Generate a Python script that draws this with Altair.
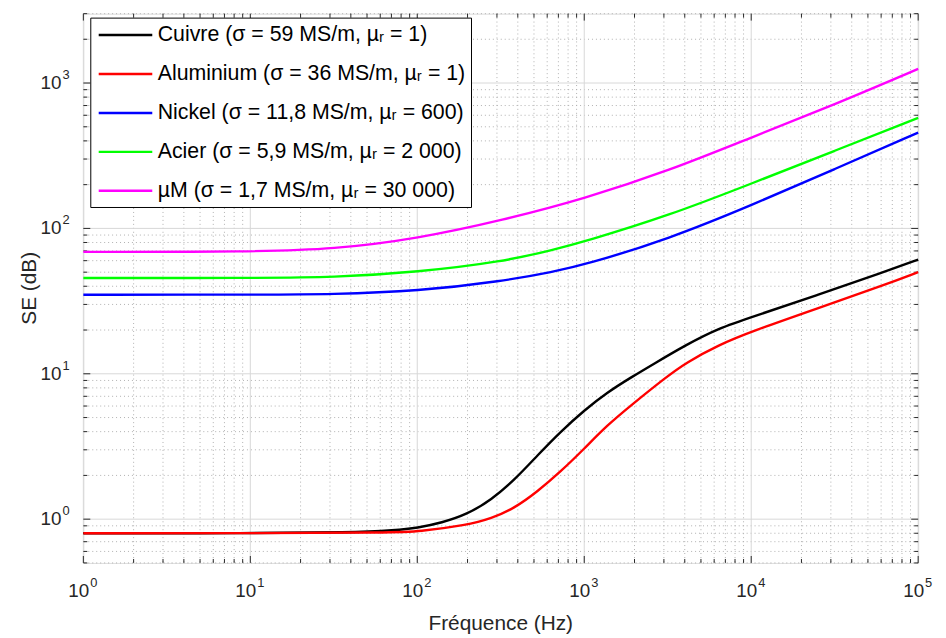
import altair as alt
import pandas as pd

# ---------------- data ----------------
series_names = [
    "Cuivre (σ = 59 MS/m, µᵣ = 1)",
    "Aluminium (σ = 36 MS/m, µᵣ = 1)",
    "Nickel (σ = 11,8 MS/m, µᵣ = 600)",
    "Acier (σ = 5,9 MS/m, µᵣ = 2 000)",
    "µM (σ = 1,7 MS/m, µᵣ = 30 000)",
]
series_colors = ["#000000", "#ff0000", "#0000ff", "#00ff00", "#ff00ff"]

cu_f = [1, 10, 40, 74, 100, 140, 198, 278, 382, 525, 721, 1000, 1360, 1950, 2575, 4060, 6400, 10000, 25000, 62000, 100000]
cu_se = [0.80, 0.80, 0.81, 0.84, 0.87, 0.945, 1.076, 1.36, 1.86, 2.75, 4.0, 5.6, 7.4, 9.6, 11.6, 15.8, 20.6, 24.5, 34.8, 50, 61]

al_f = [1, 10, 74, 100, 198, 278, 382, 525, 721, 1000, 1360, 1950, 3100, 4060, 6400, 10000, 25000, 62000, 100000]
al_se = [0.80, 0.80, 0.81, 0.82, 0.91, 1.01, 1.19, 1.55, 2.12, 3.05, 4.39, 6.2, 9.5, 11.9, 15.8, 19.5, 28.2, 40.6, 50]

ni_f = [1, 10, 32, 100, 326, 658, 1000, 3240, 10000, 31600, 100000]
ni_se = [35, 35, 35.2, 37, 43.3, 50.5, 56, 85, 144, 256, 456]

ac_f = [1, 10, 32, 100, 326, 658, 1000, 3240, 10000, 31600, 100000]
ac_se = [45.6, 45.6, 46, 50, 59, 71.5, 81, 123, 203, 342, 576]

mu_f = [1, 10, 32, 100, 326, 1000, 3240, 10000, 31600, 100000]
mu_se = [69, 69, 72, 85, 114, 160, 250, 422, 710, 1250]

# axis decorations
x_major = [1, 10, 100, 1000, 10000, 100000]
x_minor = [k * 10 ** d for d in range(5) for k in range(2, 10)]
y_major = [1, 10, 100, 1000]
y_minor = [0.5, 0.6, 0.7, 0.8, 0.9] + [k * 10 ** d for d in range(3) for k in range(2, 10)] + [2000, 3000]
x_exp = ["0", "1", "2", "3", "4", "5"]
y_exp = ["0", "1", "2", "3"]

rows = []
for name, fs, ses in zip(series_names, [cu_f, al_f, ni_f, ac_f, mu_f], [cu_se, al_se, ni_se, ac_se, mu_se]):
    for f, s in zip(fs, ses):
        rows.append({"serie": name, "f": f, "se": s})
df = pd.DataFrame(rows)

W, H = 842, 554
FONT = "Liberation Sans"
TXT = "#262626"

xs = alt.Scale(type="log", domain=[1, 100000], nice=False)
ys = alt.Scale(type="log", domain=[0.5, 3000], nice=False)

dxmaj = pd.DataFrame({"f": x_major, "e": x_exp, "b": ["10"] * len(x_major)})
dxmin = pd.DataFrame({"f": x_minor})
dymaj = pd.DataFrame({"se": y_major, "e": y_exp, "b": ["10"] * len(y_major)})
dymin = pd.DataFrame({"se": y_minor})

X = lambda: alt.X("f:Q", scale=xs, axis=None)
Y = lambda: alt.Y("se:Q", scale=ys, axis=None)

grid_xmin = alt.Chart(dxmin).mark_rule(color="#b0b0b0", strokeDash=[1, 3], strokeWidth=1).encode(x=X())
grid_ymin = alt.Chart(dymin).mark_rule(color="#b0b0b0", strokeDash=[1, 3], strokeWidth=1).encode(y=Y())
grid_xmaj = alt.Chart(dxmaj).mark_rule(color="#d8d8d8", strokeWidth=1).encode(x=X())
grid_ymaj = alt.Chart(dymaj).mark_rule(color="#d8d8d8", strokeWidth=1).encode(y=Y())

# legend symbol: horizontal segment 5 units long, scaled by sqrt(size)/2
SYM = 467
lines = alt.Chart(df).mark_line(strokeWidth=2.4, interpolate="basis").encode(
    x=X(),
    y=Y(),
    color=alt.Color(
        "serie:N",
        scale=alt.Scale(domain=series_names, range=series_colors),
        legend=alt.Legend(
            title=None,
            orient="none",
            legendX=7,
            legendY=4,
            padding=5,
            strokeColor="#000000",
            fillColor="#ffffff",
            cornerRadius=0,
            symbolType="M-2.5,0H2.5",
            symbolSize=SYM,
            symbolStrokeWidth=2.5,
            symbolOffset=18,
            labelFontSize=21.5,
            labelFont=FONT,
            labelColor="#000000",
            labelOffset=20,
            labelLimit=600,
            rowPadding=16.3,
        ),
    ),
)

tick_col = TXT
t_xb_maj = alt.Chart(dxmaj).mark_rule(color=tick_col).encode(x=X(), y=alt.value(H), y2=alt.value(H - 7))
t_xt_maj = alt.Chart(dxmaj).mark_rule(color=tick_col).encode(x=X(), y=alt.value(0), y2=alt.value(7))
t_xb_min = alt.Chart(dxmin).mark_rule(color=tick_col).encode(x=X(), y=alt.value(H), y2=alt.value(H - 4))
t_xt_min = alt.Chart(dxmin).mark_rule(color=tick_col).encode(x=X(), y=alt.value(0), y2=alt.value(4))
t_yl_maj = alt.Chart(dymaj).mark_rule(color=tick_col).encode(y=Y(), x=alt.value(0), x2=alt.value(7))
t_yr_maj = alt.Chart(dymaj).mark_rule(color=tick_col).encode(y=Y(), x=alt.value(W), x2=alt.value(W - 7))
t_yl_min = alt.Chart(dymin).mark_rule(color=tick_col).encode(y=Y(), x=alt.value(0), x2=alt.value(4))
t_yr_min = alt.Chart(dymin).mark_rule(color=tick_col).encode(y=Y(), x=alt.value(W), x2=alt.value(W - 4))

xl_base = alt.Chart(dxmaj).mark_text(font=FONT, fontSize=19, color=TXT, align="right", baseline="middle", dx=6).encode(
    x=X(), y=alt.value(H + 28), text="b:N")
xl_exp = alt.Chart(dxmaj).mark_text(font=FONT, fontSize=13, color=TXT, align="left", baseline="middle", dx=7).encode(
    x=X(), y=alt.value(H + 20), text="e:N")
yl_base = alt.Chart(dymaj).mark_text(font=FONT, fontSize=19, color=TXT, align="right", baseline="middle").encode(
    y=Y(), x=alt.value(-22), text="b:N")
yl_exp = alt.Chart(dymaj).mark_text(font=FONT, fontSize=13, color=TXT, align="left", baseline="middle", dy=-8).encode(
    y=Y(), x=alt.value(-21), text="e:N")

x_title = alt.Chart(pd.DataFrame({"t": ["Fréquence (Hz)"]})).mark_text(
    font=FONT, fontSize=21, color=TXT, align="center", baseline="middle").encode(
    x=alt.value(W / 2), y=alt.value(H + 62), text="t:N")
y_title = alt.Chart(pd.DataFrame({"t": ["SE (dB)"]})).mark_text(
    font=FONT, fontSize=21, color=TXT, align="center", baseline="middle", angle=270).encode(
    x=alt.value(-54), y=alt.value(H / 2), text="t:N")

chart = alt.layer(
    grid_xmin, grid_ymin, grid_xmaj, grid_ymaj,
    t_xb_maj, t_xt_maj, t_xb_min, t_xt_min, t_yl_maj, t_yr_maj, t_yl_min, t_yr_min,
    lines,
    xl_base, xl_exp, yl_base, yl_exp, x_title, y_title,
).properties(
    width=W, height=H,
    autosize=alt.AutoSizeParams(type="none"),
    padding={"left": 76, "top": 3, "right": 20, "bottom": 73},
).configure_view(stroke="#262626", strokeWidth=1).configure(background="#ffffff")

chart.save("out.html", embed_options={"renderer": "svg", "actions": False})
